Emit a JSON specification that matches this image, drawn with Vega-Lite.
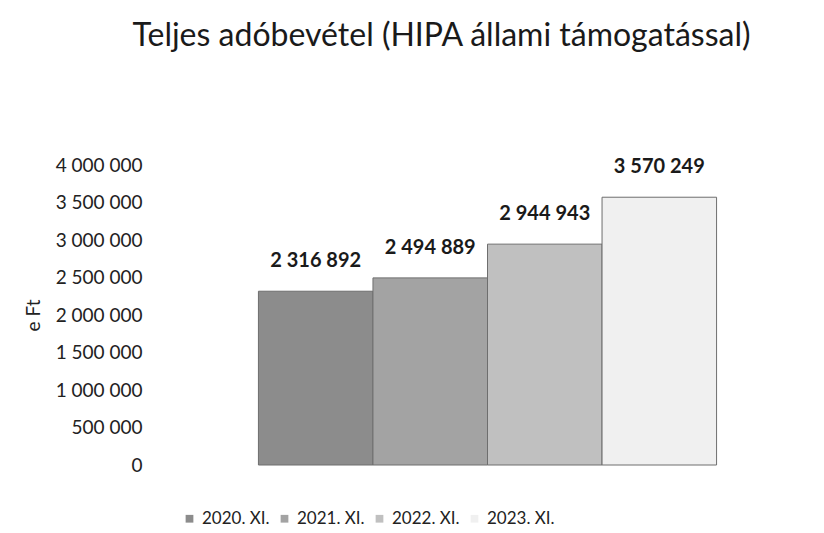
{
  "$schema": "https://vega.github.io/schema/vega-lite/v6.json",
  "width": 465,
  "height": 300,
  "autosize": {"type": "none"},
  "padding": {"left": 255, "top": 165, "right": 104, "bottom": 68},
  "background": "white",
  "config": {
    "font": "Lato",
    "locale": {"number": {"decimal": ",", "thousands": " ", "grouping": [3], "currency": ["", " Ft"]}},
    "view": {"stroke": null}
  },
  "title": {
    "text": "Teljes adóbevétel (HIPA állami támogatással)",
    "fontSize": 32,
    "fontWeight": "normal",
    "color": "#1a1a1a",
    "anchor": "middle",
    "offset": 103,
    "dx": -46
  },
  "data": {
    "values": [
      {"period": "2020. XI.", "value": 2316892},
      {"period": "2021. XI.", "value": 2494889},
      {"period": "2022. XI.", "value": 2944943},
      {"period": "2023. XI.", "value": 3570249}
    ]
  },
  "encoding": {
    "x": {
      "field": "period",
      "type": "nominal",
      "sort": null,
      "scale": {"paddingInner": 0, "paddingOuter": 0.03},
      "axis": null
    },
    "y": {
      "field": "value",
      "type": "quantitative",
      "scale": {"domain": [0, 4000000], "nice": false},
      "axis": {
        "title": "e Ft",
        "titleFontSize": 19,
        "titleFontWeight": "normal",
        "titleColor": "#222",
        "titlePadding": 12,
        "values": [0, 500000, 1000000, 1500000, 2000000, 2500000, 3000000, 3500000, 4000000],
        "format": ",d",
        "labelFontSize": 19,
        "labelColor": "#222",
        "labelPadding": 6,
        "offset": 107,
        "domain": false,
        "ticks": false,
        "grid": false
      }
    }
  },
  "layer": [
    {
      "mark": {"type": "bar", "stroke": "#6e6e6e", "strokeWidth": 1},
      "encoding": {
        "color": {
          "field": "period",
          "type": "nominal",
          "sort": null,
          "scale": {"range": ["#8c8c8c", "#a3a3a3", "#c0c0c0", "#f0f0f0"]},
          "legend": {
            "title": null,
            "orient": "none",
            "legendX": -74,
            "legendY": 345,
            "direction": "horizontal",
            "symbolType": "square",
            "symbolSize": 60,
            "symbolStrokeWidth": 0,
            "labelFontSize": 17,
            "labelColor": "#222",
            "labelOffset": 4,
            "columnPadding": 6
          }
        }
      }
    },
    {
      "mark": {"type": "text", "dy": -30, "fontSize": 20, "fontWeight": "bold", "color": "#1a1a1a"},
      "encoding": {
        "text": {"field": "value", "type": "quantitative", "format": ",d"}
      }
    }
  ]
}
